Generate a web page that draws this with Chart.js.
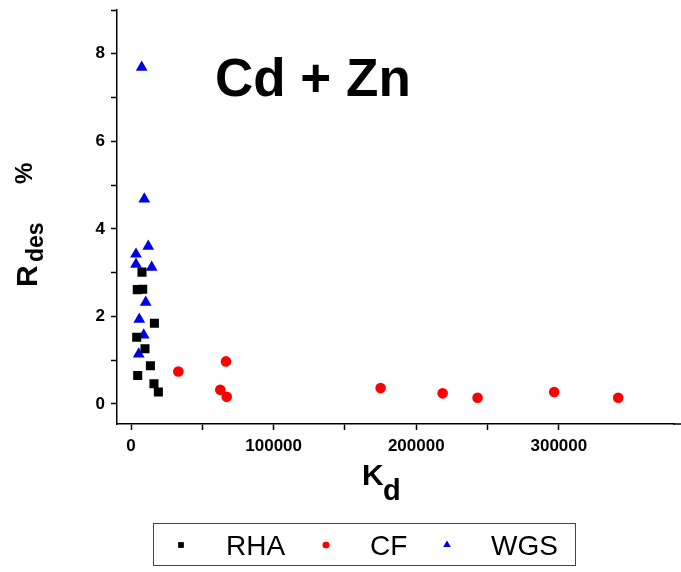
<!DOCTYPE html>
<html>
<head>
<meta charset="utf-8">
<script src="https://cdn.jsdelivr.net/npm/chart.js@4/dist/chart.umd.min.js"></script>
<style>
  html, body { margin: 0; padding: 0; background: #fff; overflow: hidden; }
  #wrap { width: 681px; height: 572px; position: relative; }
  canvas { display: block; }
</style>
</head>
<body>
<div id="wrap"><canvas id="chart"></canvas></div>
<script>
// ======================= DATA =========================
const rhaKd   = [7700, 4400, 8200, 16400, 4000, 9800, 13600, 4700, 16100, 19200];
const rhaRdes = [3.01, 2.61, 2.62, 1.84, 1.52, 1.26, 0.87, 0.65, 0.46, 0.27];

const cfKd   = [33200, 66600, 62600, 67100, 175000, 218500, 243000, 296700, 341600];
const cfRdes = [0.74, 0.97, 0.32, 0.16, 0.36, 0.24, 0.14, 0.27, 0.14];

const wgsKd   = [7500, 9300, 12100, 3500, 3500, 14500, 10300, 5800, 8900, 5400];
const wgsRdes = [7.69, 4.68, 3.60, 3.42, 3.19, 3.12, 2.32, 1.93, 1.57, 1.14];

const xTicks = [0, 50000, 100000, 150000, 200000, 250000, 300000];
const xLabels = [0, 100000, 200000, 300000];
const yTicks = [0, 1, 2, 3, 4, 5, 6, 7, 8, 9];
const yLabels = [0, 2, 4, 6, 8];

const FONT = "'Liberation Sans', Arial, sans-serif";

function pts(xs, ys) {
  return xs.map((x, i) => ({ x: x, y: ys[i] }));
}

// ================== TEXT / LEGEND PLUGIN ==================
const extras = {
  id: "extras",
  afterDraw(chart) {
    const ctx = chart.ctx;
    const area = chart.chartArea;
    ctx.save();

    // x axis line runs on to the right edge
    ctx.strokeStyle = "#000";
    ctx.lineWidth = 1.5;
    ctx.beginPath();
    ctx.moveTo(area.right - 1, area.bottom);
    ctx.lineTo(chart.width, area.bottom);
    ctx.stroke();

    ctx.fillStyle = "#000";
    ctx.textBaseline = "alphabetic";

    // big label
    ctx.font = "bold 53px " + FONT;
    ctx.textAlign = "left";
    ctx.fillText("Cd + Zn", 215, 96);

    // x title K_d
    ctx.font = "bold 30px " + FONT;
    ctx.fillText("K", 362, 485);
    ctx.font = "bold 29px " + FONT;
    ctx.fillText("d", 383, 500);

    // y title R_des %
    ctx.save();
    ctx.translate(37, 287);
    ctx.rotate(-Math.PI / 2);
    ctx.font = "bold 30px " + FONT;
    ctx.fillText("R", 0, 0);
    ctx.font = "bold 23px " + FONT;
    ctx.fillText("des", 25, 6);
    ctx.font = "bold 24px " + FONT;
    ctx.fillText("%", 103, -5);
    ctx.restore();

    // legend box
    ctx.strokeStyle = "#444";
    ctx.lineWidth = 1;
    ctx.strokeRect(153.5, 523.5, 422, 42);
    const items = [
      { label: "RHA", style: "rect",     color: "#000",    r: 3.8, mx: 181, tx: 226 },
      { label: "CF",  style: "circle",   color: "#ff0000", r: 3.3, mx: 326, tx: 370 },
      { label: "WGS", style: "triangle", color: "#0000e6", r: 4.2, mx: 447, tx: 491 }
    ];
    ctx.font = "28px " + FONT;
    items.forEach(it => {
      ctx.fillStyle = it.color;
      ctx.strokeStyle = it.color;
      Chart.helpers.drawPoint(ctx, { pointStyle: it.style, radius: it.r, borderWidth: 0, rotation: 0 }, it.mx, 545);
      ctx.fill();
      ctx.fillStyle = "#000";
      ctx.fillText(it.label, it.tx, 555);
    });
    ctx.restore();
  }
};

// ================== CHART ==================
new Chart(document.getElementById("chart"), {
  type: "scatter",
  data: {
    datasets: [
      { label: "RHA", data: pts(rhaKd, rhaRdes), pointStyle: "rect", pointRadius: 6.4,
        backgroundColor: "#000", borderColor: "#000", borderWidth: 0 },
      { label: "CF", data: pts(cfKd, cfRdes), pointStyle: "circle", pointRadius: 5.3,
        backgroundColor: "#ff0000", borderColor: "#ff0000", borderWidth: 0 },
      { label: "WGS", data: pts(wgsKd, wgsRdes), pointStyle: "triangle", pointRadius: 6.8,
        backgroundColor: "#0000e6", borderColor: "#0000e6", borderWidth: 0 }
    ]
  },
  options: {
    responsive: true,
    maintainAspectRatio: false,
    animation: false,
    layout: { padding: { top: 10, left: 0, right: 0, bottom: 0 } },
    plugins: { legend: { display: false }, tooltip: { enabled: false } },
    scales: {
      x: {
        type: "linear",
        min: -9820,
        max: 380860,
        afterBuildTicks: s => { s.ticks = xTicks.map(v => ({ value: v })); },
        afterFit: s => { s.height = 148; s.paddingLeft = 0; s.paddingRight = 0; },
        border: { display: true, color: "#000", width: 1.5 },
        grid: { display: true, drawOnChartArea: false, drawTicks: true, tickLength: 6, color: "#000", tickWidth: 1.5 },
        ticks: {
          color: "#000",
          padding: 6,
          maxRotation: 0,
          autoSkip: false,
          font: { family: FONT, size: 17, weight: "bold" },
          callback: v => xLabels.includes(v) ? String(v) : ""
        }
      },
      y: {
        type: "linear",
        min: -0.46,
        max: 9.0,
        afterBuildTicks: s => { s.ticks = yTicks.map(v => ({ value: v })); },
        afterFit: s => { s.width = 117; s.paddingTop = 0; s.paddingBottom = 0; },
        border: { display: true, color: "#000", width: 1.5 },
        grid: { display: true, drawOnChartArea: false, drawTicks: true, tickLength: 6, color: "#000", tickWidth: 1.5 },
        ticks: {
          color: "#000",
          padding: 6,
          autoSkip: false,
          font: { family: FONT, size: 17, weight: "bold" },
          callback: v => yLabels.includes(v) ? String(v) : ""
        }
      }
    }
  },
  plugins: [extras]
});
</script>
</body>
</html>
